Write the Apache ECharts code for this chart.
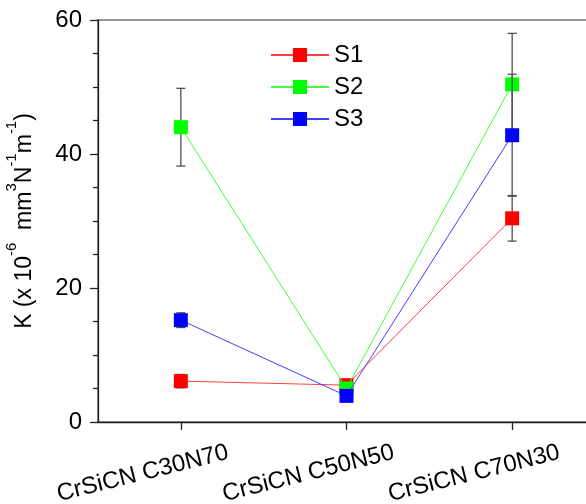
<!DOCTYPE html>
<html>
<head>
<meta charset="utf-8">
<script src="https://cdn.jsdelivr.net/npm/echarts@6/dist/echarts.min.js"></script>
<style>
  html, body { margin: 0; padding: 0; background: #ffffff; }
  #chart { width: 586px; height: 504px; }
</style>
</head>
<body>
<div id="chart"></div>
<script>
// Wear coefficient K (x 10^-6 mm^3 N^-1 m^-1) for three CrSiCN coatings
const categories = ['CrSiCN C30N70', 'CrSiCN C50N50', 'CrSiCN C70N30'];
const seriesNames = ['S1', 'S2', 'S3'];
const s1 = [6.1, 5.5, 30.4];
const s2 = [44.0, 5.0, 50.4];
const s3 = [15.2, 3.9, 42.8];
const s1Err = [1.0, 0.5, 3.4];
const s2Err = [5.8, 0.6, 7.6];
const s3Err = [1.1, 0.7, 9.1];
const yTicks = [0, 20, 40, 60];

const markColors = ['#ff0000', '#00ff00', '#0000ff'];
const lineColors = ['#ff4040', '#40ff40', '#4040ff'];
const FONT = 'Liberation Sans, Arial, sans-serif';

const values = [s1, s2, s3];
const errors = [s1Err, s2Err, s3Err];

function errorBarItem(params, api) {
  const x = api.value(0);
  const top = api.coord([x, api.value(2)]);
  const bot = api.coord([x, api.value(1)]);
  const hw = 4.5;
  const st = { stroke: '#505050', lineWidth: 1.3 };
  return {
    type: 'group',
    children: [
      { type: 'line', shape: { x1: top[0], y1: top[1], x2: bot[0], y2: bot[1] }, style: st },
      { type: 'line', shape: { x1: top[0] - hw, y1: top[1], x2: top[0] + hw, y2: top[1] }, style: st },
      { type: 'line', shape: { x1: bot[0] - hw, y1: bot[1], x2: bot[0] + hw, y2: bot[1] }, style: st }
    ]
  };
}

const series = [];
values.forEach((vals, k) => {
  series.push({
    type: 'custom',
    name: seriesNames[k] + ' error',
    z: 2 + k * 2,
    renderItem: errorBarItem,
    encode: { x: 0, y: [1, 2] },
    data: vals.map((v, i) => [i, v - errors[k][i], v + errors[k][i]]),
    silent: true
  });
  series.push({
    type: 'line',
    name: seriesNames[k],
    z: 3 + k * 2,
    data: vals,
    symbol: 'rect',
    symbolSize: 14,
    showSymbol: true,
    itemStyle: { color: markColors[k], borderColor: markColors[k], borderWidth: 0, opacity: 1 },
    lineStyle: { color: lineColors[k], width: 1 },
    emphasis: { disabled: true },
    animation: false
  });
});

const chart = echarts.init(document.getElementById('chart'), null, { renderer: 'canvas' });
chart.setOption({
  animation: false,
  backgroundColor: '#ffffff',
  textStyle: { fontFamily: FONT },
  grid: {
    left: 98, top: 20, width: 497, height: 402,
    outerBoundsMode: 'none',
    containLabel: false,
    show: true, borderColor: '#333333', borderWidth: 1.2, backgroundColor: 'transparent'
  },
  legend: {
    data: seriesNames,
    orient: 'vertical',
    left: 265,
    top: 38,
    itemWidth: 58,
    itemHeight: 17.5,
    itemGap: 8,
    textStyle: { fontFamily: FONT, fontSize: 24, color: '#000000' },
    selectedMode: false
  },
  xAxis: {
    type: 'category',
    data: categories,
    boundaryGap: true,
    axisLine: { show: true, lineStyle: { color: '#222222', width: 1.3 } },
    axisTick: { show: true, alignWithLabel: true, inside: false, length: 8, lineStyle: { color: '#222222', width: 1.3 } },
    axisLabel: {
      interval: 0,
      rotate: 14,
      margin: 8,
      align: 'center',
      verticalAlign: 'middle',
      formatter: v => '{a|' + v + '}',
      rich: {
        a: { fontFamily: FONT, fontSize: 24, color: '#000000', padding: [66, 95, 0, 0] }
      }
    },
    splitLine: { show: false }
  },
  yAxis: {
    type: 'value',
    min: yTicks[0],
    max: yTicks[yTicks.length - 1],
    interval: yTicks[1] - yTicks[0],
    axisLine: { show: true, lineStyle: { color: '#222222', width: 1.3 } },
    axisTick: { show: true, inside: false, length: 8, lineStyle: { color: '#222222', width: 1.3 } },
    minorTick: { show: true, splitNumber: 4, length: 5, lineStyle: { color: '#222222', width: 1.3 } },
    splitLine: { show: false },
    axisLabel: { fontFamily: FONT, fontSize: 24, color: '#000000', margin: 16 },
    name: 'K (x 10{sup|-6}  mm{sup|3}N{sup|-1}m{sup|-1})',
    nameLocation: 'middle',
    nameRotate: 90,
    nameGap: 50,
    nameTextStyle: {
      fontFamily: FONT, fontSize: 23, color: '#000000', lineHeight: 40,
      rich: {
        sup: { fontFamily: FONT, fontSize: 15, color: '#000000', verticalAlign: 'top', lineHeight: 15 }
      }
    }
  },
  series: series
});
</script>
</body>
</html>
